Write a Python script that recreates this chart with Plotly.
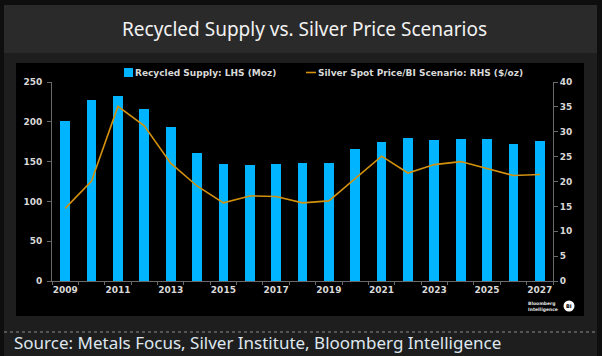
import plotly.graph_objects as go

years = list(range(2009, 2028))
recycled_supply = [201, 227, 233, 216, 193, 161, 147, 146, 147, 148,
                   148, 166, 175, 180, 177, 179, 178, 172, 176]
silver_price = [14.6, 20.1, 35.1, 31.2, 23.7, 19.1, 15.7, 17.1, 17.0, 15.7,
                16.1, 20.6, 25.1, 21.7, 23.4, 24.0, 22.6, 21.2, 21.4]
tick_years = [2009, 2011, 2013, 2015, 2017, 2019, 2021, 2023, 2025, 2027]
left_ticks = [0, 50, 100, 150, 200, 250]
right_ticks = [0, 5, 10, 15, 20, 25, 30, 35, 40]
supply_name = "Recycled Supply: LHS (Moz)"
price_name = "Silver Spot Price/BI Scenario: RHS ($/oz)"

W, H = 602, 356
L, R, T, B = 52, 553, 82, 281  # plot area in pixels

BAR_COL = "#00b4ff"
LINE_COL = "#d4910c"


def px(x):
    return (x - L) / (R - L)


def py(y):
    return (B - y) / (B - T)


tick_font = dict(family="DejaVu Sans", size=9, color="#d9d9d9", weight="bold")
axis_col = "#6a6a6a"

fig = go.Figure()
fig.add_trace(go.Bar(
    x=years, y=recycled_supply, name=supply_name,
    marker=dict(color=BAR_COL, line=dict(width=0)), width=0.37, yaxis="y"))
fig.add_trace(go.Scatter(
    x=years, y=silver_price, name=price_name,
    mode="lines", line=dict(color=LINE_COL, width=1.6), yaxis="y2"))

shapes = [
    dict(type="rect", xref="paper", yref="paper", x0=px(4), x1=px(597), y0=py(5), y1=py(53),
         fillcolor="#2a2a2a", line=dict(width=0), layer="below"),
    dict(type="rect", xref="paper", yref="paper", x0=px(4), x1=px(597), y0=py(53), y1=py(357),
         fillcolor="#1e1e1e", line=dict(width=0), layer="below"),
    dict(type="rect", xref="paper", yref="paper", x0=px(16), x1=px(584), y0=py(63), y1=py(316),
         fillcolor="#000000", line=dict(width=0), layer="below"),
    dict(type="line", xref="paper", yref="paper", x0=px(4), x1=px(597), y0=py(332), y1=py(332),
         line=dict(color="#8a8a8a", width=1, dash="dot")),
    dict(type="circle", xref="paper", yref="paper", x0=px(563.5), x1=px(574.5), y0=py(300.5), y1=py(311.5),
         fillcolor="#ffffff", line=dict(width=0)),
    # legend swatches
    dict(type="rect", xref="paper", yref="paper", x0=px(124), x1=px(133), y0=py(68), y1=py(77),
         fillcolor=BAR_COL, line=dict(width=0)),
    dict(type="line", xref="paper", yref="paper", x0=px(306), x1=px(316), y0=py(72.5), y1=py(72.5),
         line=dict(color=LINE_COL, width=1.6)),
]

annotations = [
    dict(text="Recycled Supply vs. Silver Price Scenarios", xref="paper", yref="paper",
         x=px(304), y=py(29), xanchor="center", yanchor="middle", showarrow=False,
         font=dict(family="Noto Sans", size=19, color="#f2f2f2")),
    dict(text="Source: Metals Focus, Silver Institute, Bloomberg Intelligence", xref="paper", yref="paper",
         x=px(12), y=py(342), xanchor="left", yanchor="middle", showarrow=False,
         font=dict(family="Noto Sans", size=17, color="#dfe7ef")),
    dict(text="Bloomberg<br>Intelligence", xref="paper", yref="paper",
         x=px(526), y=py(306.5), xanchor="left", yanchor="middle", showarrow=False, align="left",
         font=dict(family="DejaVu Sans", size=4.5, color="#e0e0e0", weight="bold")),
    dict(text="BI", xref="paper", yref="paper",
         x=px(569), y=py(306), xanchor="center", yanchor="middle", showarrow=False,
         font=dict(family="DejaVu Sans", size=5, color="#000000", weight="bold")),
    dict(text=supply_name, xref="paper", yref="paper",
         x=px(133), y=py(72.5), xanchor="left", yanchor="middle", showarrow=False,
         font=tick_font),
    dict(text=price_name, xref="paper", yref="paper",
         x=px(316), y=py(72.5), xanchor="left", yanchor="middle", showarrow=False,
         font=tick_font),
]

fig.update_layout(
    width=W, height=H,
    margin=dict(l=L, r=W - R, t=T, b=H - B, pad=0),
    paper_bgcolor="#0e0e0e",
    plot_bgcolor="rgba(0,0,0,0)",
    shapes=shapes,
    annotations=annotations,
    bargap=0,
    showlegend=False,
    xaxis=dict(range=[2008.5, 2027.5], tickvals=tick_years, ticktext=[str(y) for y in tick_years],
               ticks="", tickfont=tick_font, showgrid=False, zeroline=False,
               showline=True, linecolor=axis_col, linewidth=1,
               minor=dict(tick0=2008.5, dtick=1, ticks="outside", ticklen=3, tickcolor=axis_col,
                          showgrid=False)),
    yaxis=dict(range=[0, 250], tickvals=left_ticks, ticks="outside", ticklen=4, tickcolor=axis_col,
               tickfont=tick_font, showgrid=False, zeroline=False, showline=True,
               linecolor=axis_col, linewidth=1, ticklabelstandoff=3),
    yaxis2=dict(range=[0, 40], tickvals=right_ticks, overlaying="y", side="right",
                ticks="outside", ticklen=4, tickcolor=axis_col, tickfont=tick_font,
                showgrid=False, zeroline=False, showline=True, linecolor=axis_col, linewidth=1),
)

fig.write_html("out.html",
               config={"displayModeBar": False},
               post_script="document.body.style.margin='0';"
                           "document.body.style.background='#0e0e0e';")
